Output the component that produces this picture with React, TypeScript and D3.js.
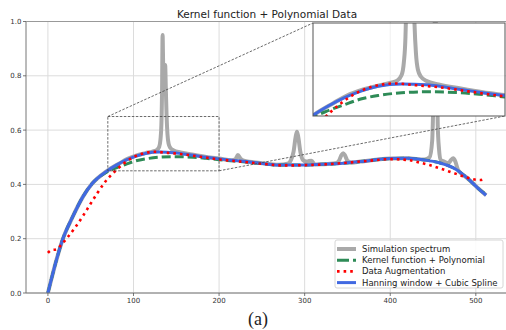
import React from "react";
import * as d3 from "d3";

const title = "Kernel function + Polynomial Data";
const xTicks = [0, 100, 200, 300, 400, 500];
const yTicks = [0, 0.2, 0.4, 0.6, 0.8, 1.0];
const legendLabels = [
  "Simulation spectrum",
  "Kernel function + Polynomial",
  "Data Augmentation",
  "Hanning window + Cubic Spline",
];

const spectrum: [number, number][] = [
  [0, 0], [10, 0.122], [17, 0.195], [29, 0.281], [41, 0.355], [52, 0.404], [68, 0.447],
  [84, 0.478], [93, 0.494], [103, 0.506], [114, 0.515], [122, 0.521], [127, 0.526],
  [130, 0.538], [131.5, 0.565], [132.6, 0.62], [133.4, 0.75], [134, 0.95], [134.8, 0.82],
  [135.8, 0.78], [137, 0.84], [137.8, 0.75], [138.7, 0.65], [139.7, 0.585], [141, 0.55],
  [143, 0.535], [147, 0.525], [155, 0.518], [170, 0.509], [185, 0.501], [200, 0.495],
  [215, 0.489], [219, 0.492], [222, 0.508], [225, 0.495], [229, 0.487], [248, 0.479],
  [270, 0.472], [280, 0.476], [284, 0.49], [287, 0.52], [289.5, 0.575], [291, 0.594],
  [292.5, 0.575], [295, 0.52], [298, 0.49], [302, 0.484], [305, 0.486], [308, 0.487],
  [312, 0.473], [320, 0.474], [336, 0.478], [340, 0.487], [343, 0.508], [345, 0.515],
  [347, 0.508], [350, 0.487], [355, 0.48], [365, 0.484], [400, 0.495], [420, 0.496],
  [440, 0.492], [446, 0.5], [449, 0.56], [451, 0.8], [452.5, 1.05], [454, 0.9],
  [455.5, 0.62], [457, 0.53], [459, 0.49], [463, 0.484], [468, 0.478], [471, 0.49],
  [473.5, 0.496], [476, 0.485], [479, 0.455], [483, 0.44], [489, 0.426], [505, 0.379],
  [512, 0.36],
];

const kernel: [number, number][] = [
  [0, 0], [10, 0.122], [17, 0.195], [29, 0.281], [41, 0.355], [52, 0.404], [68, 0.444],
  [79, 0.46], [91, 0.474], [103, 0.487], [114, 0.494], [130, 0.5], [147, 0.502],
  [170, 0.5], [185, 0.496], [200, 0.491], [225, 0.484], [248, 0.477], [270, 0.471],
  [298, 0.471], [320, 0.474], [345, 0.478], [365, 0.484], [400, 0.495], [420, 0.496],
  [440, 0.49], [457, 0.48], [477, 0.455], [489, 0.426], [505, 0.379], [510, 0.367],
];

const augmentation: [number, number][] = [
  [0, 0.148], [4, 0.158], [10, 0.161], [15.5, 0.177], [23, 0.205], [32, 0.242],
  [41, 0.284], [49.5, 0.327], [58, 0.369], [67, 0.41], [77, 0.444], [88, 0.475],
  [98, 0.497], [110, 0.513], [125, 0.52], [140, 0.516], [155, 0.512], [175, 0.503],
  [200, 0.492], [225, 0.484], [250, 0.476], [275, 0.47], [300, 0.471], [325, 0.474],
  [350, 0.48], [375, 0.487], [400, 0.493], [420, 0.49], [435, 0.48], [446, 0.471],
  [458, 0.459], [473, 0.443], [489, 0.426], [497, 0.419], [505, 0.416], [510, 0.42],
];

const hanning: [number, number][] = [
  [0, 0], [10, 0.122], [17, 0.195], [29, 0.281], [41, 0.355], [52, 0.404], [68, 0.447],
  [80, 0.471], [91, 0.489], [103, 0.504], [114, 0.514], [130, 0.519], [147, 0.517],
  [170, 0.507], [185, 0.5], [200, 0.494], [225, 0.486], [248, 0.478], [270, 0.471],
  [298, 0.471], [320, 0.474], [345, 0.478], [365, 0.484], [400, 0.495], [420, 0.496],
  [440, 0.49], [457, 0.48], [477, 0.455], [489, 0.426], [505, 0.379], [512, 0.36],
];

const zoomX = [70, 200];
const zoomY = [0.45, 0.65];

const series = [
  { data: spectrum, color: "#a9a9a9", width: 4, dash: "" },
  { data: kernel, color: "#2e8b57", width: 3, dash: "9,4" },
  { data: hanning, color: "#4169e1", width: 3, dash: "" },
  { data: augmentation, color: "#ff0000", width: 2.6, dash: "2.6,4" },
];

const FONT = "'DejaVu Sans', sans-serif";

export default function App() {
  const W = 506, H = 330;
  const x = d3.scaleLinear().domain([-25.6, 537.6]).range([26, 508]);
  const y = d3.scaleLinear().domain([0, 1]).range([293, 21.5]);
  const xi = d3.scaleLinear().domain(zoomX).range([313, 505]);
  const yi = d3.scaleLinear().domain(zoomY).range([116, 23]);

  const mainLine = d3.line<[number, number]>().x(d => x(d[0])).y(d => y(d[1])).curve(d3.curveMonotoneX);
  const insetLine = d3.line<[number, number]>().x(d => xi(d[0])).y(d => yi(d[1])).curve(d3.curveMonotoneX);

  const [x0, x1] = x.range();
  const [yb, yt] = y.range();
  const rx0 = x(zoomX[0]), rx1 = x(zoomX[1]), ry0 = y(zoomY[1]), ry1 = y(zoomY[0]);
  const [ix0, ix1] = xi.range();
  const [iyb, iyt] = yi.range();

  const legendX = 335, legendY = 240, legendW = 168, legendH = 48;

  return (
    <svg width={W} height={H} style={{ position: "absolute", left: 0, top: 0, background: "#fff" }} fontFamily={FONT}>
      <defs>
        <clipPath id="mainClip"><rect x={x0} y={yt} width={x1 - x0} height={yb - yt} /></clipPath>
        <clipPath id="insetClip"><rect x={ix0} y={iyt} width={ix1 - ix0} height={iyb - iyt} /></clipPath>
      </defs>
      <rect x={0} y={0} width={W} height={H} fill="#fff" />
      {/* grid */}
      {xTicks.map(t => (
        <line key={"gx" + t} x1={x(t)} x2={x(t)} y1={yt} y2={yb} stroke="#dcdcdc" strokeWidth={1} />
      ))}
      {yTicks.map(t => (
        <line key={"gy" + t} x1={x0} x2={x1} y1={y(t)} y2={y(t)} stroke="#dcdcdc" strokeWidth={1} />
      ))}
      {/* main series */}
      <g clipPath="url(#mainClip)">
        {series.map((s, i) => (
          <path key={i} d={mainLine(s.data) || ""} fill="none" stroke={s.color} strokeWidth={s.width}
            strokeDasharray={s.dash || undefined} strokeLinejoin="round" />
        ))}
      </g>
      {/* zoom rectangle and connectors */}
      <rect x={rx0} y={ry0} width={rx1 - rx0} height={ry1 - ry0} fill="none" stroke="#444" strokeWidth={0.8} strokeDasharray="2.5,1.5" />
      <line x1={rx0} y1={ry0} x2={ix0} y2={iyt} stroke="#444" strokeWidth={0.8} strokeDasharray="2.5,1.5" />
      <line x1={rx1} y1={ry1} x2={ix1} y2={iyb} stroke="#444" strokeWidth={0.8} strokeDasharray="2.5,1.5" />
      {/* spines */}
      <line x1={x0} x2={x0} y1={yt} y2={yb} stroke="#777" strokeWidth={1} />
      <line x1={x0} x2={x1} y1={yb} y2={yb} stroke="#777" strokeWidth={1} />
      <line x1={x0} x2={x1} y1={yt} y2={yt} stroke="#999" strokeWidth={1} />
      {/* inset */}
      <rect x={ix0} y={iyt} width={ix1 - ix0} height={iyb - iyt} fill="#fff" />
      <line x1={x(400)} x2={x(400)} y1={iyt} y2={iyb} stroke="#f0f0f0" strokeWidth={1} />
      <line x1={ix0} x2={ix1} y1={y(0.8)} y2={y(0.8)} stroke="#f0f0f0" strokeWidth={1} />
      <g clipPath="url(#insetClip)">
        {series.map((s, i) => (
          <path key={"i" + i} d={insetLine(s.data) || ""} fill="none" stroke={s.color} strokeWidth={s.width}
            strokeDasharray={s.dash || undefined} strokeLinejoin="round" />
        ))}
      </g>
      <rect x={ix0} y={iyt} width={ix1 - ix0} height={iyb - iyt} fill="none" stroke="#555" strokeWidth={1} />
      {/* ticks */}
      {xTicks.map(t => (
        <g key={"tx" + t}>
          <line x1={x(t)} x2={x(t)} y1={yb} y2={yb + 3} stroke="#555" strokeWidth={0.8} />
          <text x={x(t)} y={yb + 10} fontSize={7} textAnchor="middle" fill="#333">{String(t)}</text>
        </g>
      ))}
      {yTicks.map(t => (
        <g key={"ty" + t}>
          <line x1={x0 - 3} x2={x0} y1={y(t)} y2={y(t)} stroke="#555" strokeWidth={0.8} />
          <text x={x0 - 4.5} y={y(t) + 2.5} fontSize={7} textAnchor="end" fill="#333">{t.toFixed(1)}</text>
        </g>
      ))}
      {/* title */}
      <text x={(x0 + x1) / 2} y={17.5} fontSize={10.5} textAnchor="middle" fill="#222">{title}</text>
      {/* legend */}
      <rect x={legendX} y={legendY} width={legendW} height={legendH} rx={2} fill="#fff" fillOpacity={0.85} stroke="#cccccc" strokeWidth={0.8} />
      {legendLabels.map((lab, i) => {
        const s = series[i === 2 ? 3 : i === 3 ? 2 : i];
        const ly = legendY + 9 + i * 11.2;
        return (
          <g key={"lg" + i}>
            <line x1={legendX + 2} x2={legendX + 21} y1={ly} y2={ly} stroke={s.color} strokeWidth={s.width}
              strokeDasharray={s.dash ? (i === 1 ? "12,4" : s.dash) : undefined} />
            <text x={legendX + 27} y={ly + 3} fontSize={8.5} fill="#222">{lab}</text>
          </g>
        );
      })}
      {/* caption */}
      <text x={258} y={324.5} fontSize={18} textAnchor="middle" fontFamily="'Liberation Serif', serif" fill="#222">(a)</text>
    </svg>
  );
}
